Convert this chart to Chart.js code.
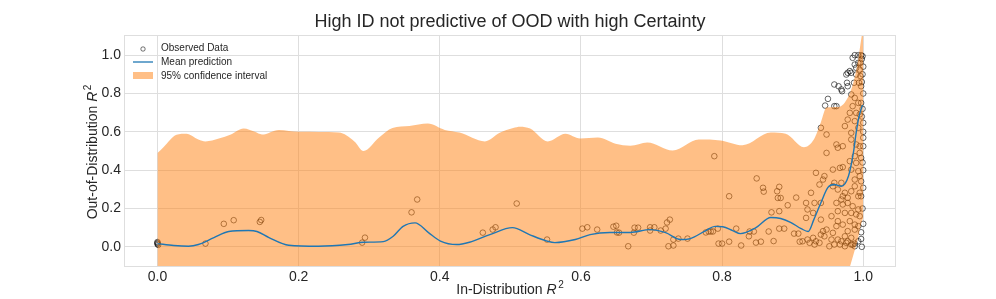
<!DOCTYPE html>
<html>
<head>
<meta charset="utf-8">
<script src="https://cdn.jsdelivr.net/npm/chart.js@4.4.1/dist/chart.umd.min.js"></script>
<style>
html,body{margin:0;padding:0;background:#fff;}
#wrap{width:996px;height:299px;position:relative;}
</style>
</head>
<body>
<div id="wrap"><canvas id="c" width="996" height="299"></canvas></div>
<script>
const titleText = "High ID not predictive of OOD with high Certainty";
const xTicks = [0.0, 0.2, 0.4, 0.6, 0.8, 1.0];
const yTicks = [0.0, 0.2, 0.4, 0.6, 0.8, 1.0];

// 95% confidence band
const bandX = [0, 0.0085, 0.027, 0.041, 0.058, 0.068, 0.087, 0.104, 0.122, 0.138, 0.148, 0.172, 0.2, 0.257, 0.279, 0.292, 0.314, 0.333, 0.357, 0.383, 0.407, 0.428, 0.464, 0.485, 0.504, 0.514, 0.528, 0.553, 0.578, 0.599, 0.624, 0.649, 0.67, 0.694, 0.73, 0.767, 0.798, 0.829, 0.869, 0.89, 0.916, 0.93, 0.94, 0.948, 0.965, 0.979, 0.987, 0.993, 0.997, 1.0];
const bandUpper = [0.49, 0.52, 0.585, 0.59, 0.56, 0.55, 0.565, 0.586, 0.617, 0.60, 0.586, 0.61, 0.60, 0.596, 0.55, 0.50, 0.57, 0.62, 0.63, 0.643, 0.61, 0.596, 0.55, 0.595, 0.62, 0.627, 0.617, 0.55, 0.59, 0.565, 0.57, 0.538, 0.528, 0.545, 0.503, 0.56, 0.555, 0.53, 0.596, 0.59, 0.52, 0.56, 0.65, 0.727, 0.73, 0.785, 0.87, 0.98, 1.08, 1.15];
const bandLower = [-0.46, -0.5, -0.56, -0.58, -0.54, -0.5, -0.46, -0.44, -0.45, -0.45, -0.47, -0.53, -0.59, -0.58, -0.52, -0.45, -0.52, -0.5, -0.39, -0.46, -0.55, -0.57, -0.46, -0.42, -0.42, -0.47, -0.5, -0.5, -0.53, -0.5, -0.44, -0.39, -0.38, -0.37, -0.35, -0.39, -0.35, -0.39, -0.29, -0.33, -0.35, -0.3, -0.2, -0.12, -0.3, -0.13, -0.03, 0.05, 0.12, 0.15];

// mean prediction
const meanX = [0, 0.023, 0.044, 0.058, 0.08, 0.101, 0.129, 0.141, 0.158, 0.186, 0.228, 0.27, 0.292, 0.32, 0.334, 0.348, 0.365, 0.384, 0.401, 0.424, 0.442, 0.471, 0.503, 0.527, 0.552, 0.563, 0.592, 0.613, 0.641, 0.67, 0.698, 0.72, 0.741, 0.755, 0.777, 0.79, 0.801, 0.815, 0.826, 0.848, 0.869, 0.883, 0.897, 0.912, 0.922, 0.930, 0.940, 0.950, 0.959, 0.969, 0.979, 0.986, 0.990, 0.994, 0.999];
const meanY = [0.017, 0.007, 0.003, 0.012, 0.048, 0.08, 0.085, 0.08, 0.048, 0.008, 0.003, 0.012, 0.024, 0.027, 0.055, 0.107, 0.125, 0.074, 0.03, 0.012, 0.024, 0.064, 0.1, 0.064, 0.03, 0.022, 0.038, 0.064, 0.075, 0.075, 0.09, 0.074, 0.038, 0.043, 0.085, 0.107, 0.105, 0.085, 0.069, 0.1, 0.153, 0.148, 0.128, 0.095, 0.08, 0.142, 0.23, 0.31, 0.325, 0.316, 0.368, 0.49, 0.596, 0.68, 0.74];

// observed data
const obsX = [0.0, 0.0, 0.0, 0.001, 0.068, 0.094, 0.108, 0.145, 0.147, 0.29, 0.294, 0.36, 0.368,
0.461, 0.475, 0.479, 0.509, 0.552, 0.602, 0.609, 0.623, 0.646, 0.65, 0.651, 0.654, 0.667, 0.675, 0.676, 0.681, 0.698, 0.698, 0.704, 0.713, 0.72, 0.722, 0.726, 0.724, 0.731, 0.731, 0.738, 0.751, 0.777, 0.781, 0.787, 0.789, 0.794, 0.795,
0.81, 0.8, 0.81, 0.784, 0.82, 0.827, 0.839, 0.845, 0.838, 0.848, 0.855, 0.849, 0.858, 0.859, 0.866, 0.87, 0.873, 0.878, 0.881, 0.879, 0.883, 0.881, 0.881, 0.888, 0.893, 0.905, 0.902, 0.908, 0.91,
0.985, 0.988, 0.993, 0.997, 0.999, 0.978, 0.981, 0.983, 0.976, 0.959, 0.965, 0.969, 0.970, 0.977, 0.978, 0.950, 0.946, 0.959, 0.962,
0.988, 0.99, 0.993, 0.995, 0.996, 0.99, 0.987, 0.994, 0.997, 0.983, 0.988, 0.993, 0.985, 0.997, 0.99, 0.981, 0.995, 0.978, 0.988, 0.974, 1.0, 0.993, 0.983, 0.94, 0.948, 1.0, 0.983, 0.99, 0.995, 1.0, 0.962, 0.964, 0.971, 0.995, 0.948, 0.988, 0.997, 0.981, 0.99, 0.967, 0.971, 0.957, 0.983, 0.993, 0.933, 0.945, 0.943, 0.995, 0.988, 0.997, 0.938, 0.959, 0.969, 0.988, 1.0, 0.957, 0.964, 0.983, 0.995, 0.974, 0.993, 0.971, 0.997, 0.926, 0.978, 0.969, 0.962, 0.978, 0.919, 0.931, 0.94, 0.971, 0.985, 0.993, 0.964, 0.974, 0.983, 0.99, 0.921, 0.995, 0.929, 0.94, 0.955, 0.964, 0.981, 0.988, 0.971, 0.993, 0.919, 0.962, 0.948, 0.943, 0.978, 0.988, 0.997, 0.957, 0.94, 0.945, 0.974, 0.983, 0.964, 0.969, 0.955, 0.914, 0.921, 0.929, 0.959, 0.938, 0.967, 0.933, 0.976, 0.983, 0.993, 0.978, 0.988, 0.924, 0.931, 0.974, 0.952, 0.997, 0.985, 0.988,
0.998, 0.996, 1.0, 0.999, 0.998, 1.0, 0.999, 0.998, 1.0, 0.999, 1.0, 0.999, 1.0, 0.998];
const obsY = [0.02, 0.015, 0.025, 0.01, 0.017, 0.12, 0.139, 0.13, 0.14, 0.022, 0.048, 0.18, 0.247,
0.074, 0.09, 0.102, 0.226, 0.038, 0.095, 0.102, 0.09, 0.105, 0.11, 0.075, 0.074, 0.003, 0.074, 0.1, 0.1, 0.102, 0.085, 0.102, 0.085, 0.095, 0.127, 0.142, 0.003, 0.007, 0.038, 0.043, 0.043, 0.075, 0.08, 0.08, 0.473, 0.095, 0.017,
0.264, 0.017, 0.027, 0.08, 0.095, 0.007, 0.08, 0.08, 0.055, 0.022, 0.027, 0.357, 0.308, 0.288, 0.08, 0.18, 0.03, 0.29, 0.313, 0.255, 0.255, 0.186, 0.095, 0.095, 0.217, 0.257, 0.069, 0.069, 0.027,
0.986, 1.0, 1.0, 1.0, 0.995, 0.908, 0.917, 0.908, 0.899, 0.847, 0.838, 0.821, 0.812, 0.856, 0.838, 0.772, 0.737, 0.734, 0.734,
0.951, 0.934, 0.96, 0.925, 0.891, 0.899, 0.856, 0.856, 0.838, 0.795, 0.777, 0.751, 0.734, 0.751, 0.699, 0.699, 0.691, 0.664, 0.656, 0.63, 0.647, 0.621, 0.595, 0.621, 0.586, 0.569, 0.56, 0.534, 0.525, 0.525, 0.534, 0.517, 0.525, 0.49, 0.49, 0.473, 0.464, 0.447, 0.438, 0.412, 0.416, 0.403, 0.403, 0.395, 0.386, 0.369, 0.351, 0.369, 0.351, 0.342, 0.325, 0.334, 0.334, 0.316, 0.308, 0.316, 0.299, 0.29, 0.282, 0.282, 0.264, 0.264, 0.264, 0.282, 0.256, 0.247, 0.229, 0.229, 0.229, 0.229, 0.229, 0.221, 0.212, 0.195, 0.186, 0.177, 0.177, 0.169, 0.195, 0.16, 0.177, 0.142, 0.16, 0.134, 0.134, 0.116, 0.116, 0.108, 0.151, 0.108, 0.09, 0.082, 0.082, 0.09, 0.076, 0.073, 0.064, 0.055, 0.055, 0.047, 0.038, 0.029, 0.038, 0.029, 0.038, 0.047, 0.012, 0.021, 0.012, 0.029, 0.021, 0.012, 0.029, 0.029, 0.003, 0.021, 0.012, 0.003, 0.003, 0.041, 0.012, 0.017,
0.98, 0.96, 0.94, 0.9, 0.86, 0.8, 0.72, 0.68, 0.6, 0.44, 0.4, 0.2, 0.12, 0.0];

const pts = (xs, ys) => xs.map((x, i) => ({x: x, y: ys[i]}));

const TXT = '#262626';
const GRID = '#dedede';
const FONT = '"Liberation Sans", Arial, sans-serif';

const overlay = {
  id: 'overlay',
  beforeDatasetsDraw(chart) {
    const a = chart.chartArea, ctx = chart.ctx;
    ctx.save();
    ctx.strokeStyle = GRID;
    ctx.lineWidth = 1;
    ctx.strokeRect(Math.round(a.left) - 0.5, Math.round(a.top) - 0.5, Math.round(a.right - a.left) + 1, Math.round(a.bottom - a.top) + 1);
    ctx.restore();
  },
  afterDraw(chart) {
    const a = chart.chartArea, ctx = chart.ctx;
    ctx.save();
    ctx.fillStyle = TXT;
    // title
    ctx.font = '18px ' + FONT;
    ctx.textAlign = 'center';
    ctx.textBaseline = 'middle';
    ctx.fillText(titleText, (a.left + a.right) / 2, 22);

    function drawAxisTitle(label, cx, cy, rot) {
      ctx.save();
      ctx.translate(cx, cy);
      ctx.rotate(rot);
      ctx.textBaseline = 'alphabetic';
      ctx.textAlign = 'left';
      const f1 = '14px ' + FONT, f2 = 'italic 14px ' + FONT, f3 = '10px ' + FONT;
      ctx.font = f1; const w1 = ctx.measureText(label).width;
      ctx.font = f2; const w2 = ctx.measureText('R').width;
      ctx.font = f3; const w3 = ctx.measureText('2').width;
      const total = w1 + w2 + 1.5 + w3;
      let x = -total / 2;
      const base = 5;
      ctx.font = f1; ctx.fillText(label, x, base); x += w1;
      ctx.font = f2; ctx.fillText('R', x, base); x += w2 + 1.5;
      ctx.font = f3; ctx.fillText('2', x, base - 6);
      ctx.restore();
    }
    drawAxisTitle('In-Distribution ', (a.left + a.right) / 2, 289, 0);
    drawAxisTitle('Out-of-Distribution ', 92, (a.top + a.bottom) / 2 + 1, -Math.PI / 2);

    // legend
    ctx.font = '10px ' + FONT;
    ctx.textAlign = 'left';
    ctx.textBaseline = 'middle';
    ctx.strokeStyle = 'rgba(0,0,0,0.55)';
    ctx.lineWidth = 1;
    ctx.beginPath(); ctx.arc(143, 49, 2.2, 0, Math.PI * 2); ctx.stroke();
    ctx.fillText('Observed Data', 161, 48);
    ctx.strokeStyle = '#1f77b4';
    ctx.lineWidth = 1.3;
    ctx.beginPath(); ctx.moveTo(133, 62); ctx.lineTo(153, 62); ctx.stroke();
    ctx.fillText('Mean prediction', 161, 62);
    ctx.fillStyle = 'rgba(255,127,14,0.5)';
    ctx.fillRect(133, 72, 20, 7);
    ctx.fillStyle = TXT;
    ctx.fillText('95% confidence interval', 161, 76);
    ctx.restore();
  }
};

new Chart(document.getElementById('c'), {
  type: 'scatter',
  data: {
    datasets: [
      {
        label: 'Mean prediction',
        data: pts(meanX, meanY),
        showLine: true,
        borderColor: '#1f77b4',
        borderWidth: 1.4,
        pointRadius: 0,
        cubicInterpolationMode: 'monotone',
        fill: false
      },
      {
        label: '95% confidence interval',
        data: pts(bandX, bandUpper),
        showLine: true,
        borderWidth: 0,
        borderColor: 'rgba(0,0,0,0)',
        pointRadius: 0,
        backgroundColor: 'rgba(255,127,14,0.5)',
        cubicInterpolationMode: 'monotone',
        fill: '+1'
      },
      {
        label: 'lower',
        data: pts(bandX, bandLower),
        showLine: true,
        borderWidth: 0,
        borderColor: 'rgba(0,0,0,0)',
        pointRadius: 0,
        cubicInterpolationMode: 'monotone',
        fill: false
      },
      {
        label: 'Observed Data',
        data: pts(obsX, obsY),
        showLine: false,
        pointStyle: 'circle',
        pointRadius: 2.8,
        pointBorderWidth: 1,
        pointBackgroundColor: 'rgba(0,0,0,0)',
        pointBorderColor: 'rgba(0,0,0,0.6)'
      }
    ]
  },
  options: {
    responsive: false,
    animation: false,
    events: [],
    layout: { padding: { left: 0, top: 36, right: 101, bottom: 0 } },
    plugins: { legend: { display: false }, title: { display: false }, tooltip: { enabled: false } },
    scales: {
      x: {
        type: 'linear', min: -0.046, max: 1.045,
        afterBuildTicks: s => { s.ticks = xTicks.map(v => ({ value: v })); },
        afterFit: s => { s.height = 33; },
        ticks: { callback: v => Number(v).toFixed(1), font: { size: 14, family: FONT }, color: TXT, padding: 3, maxRotation: 0 },
        grid: { color: GRID, lineWidth: 1, drawTicks: false },
        border: { display: false }
      },
      y: {
        type: 'linear', min: -0.1, max: 1.1,
        afterBuildTicks: s => { s.ticks = yTicks.map(v => ({ value: v })); },
        afterFit: s => { s.width = 125; },
        ticks: { callback: v => Number(v).toFixed(1), font: { size: 14, family: FONT }, color: TXT, padding: 4 },
        grid: { color: GRID, lineWidth: 1, drawTicks: false },
        border: { display: false }
      }
    }
  },
  plugins: [overlay]
});
</script>
</body>
</html>
